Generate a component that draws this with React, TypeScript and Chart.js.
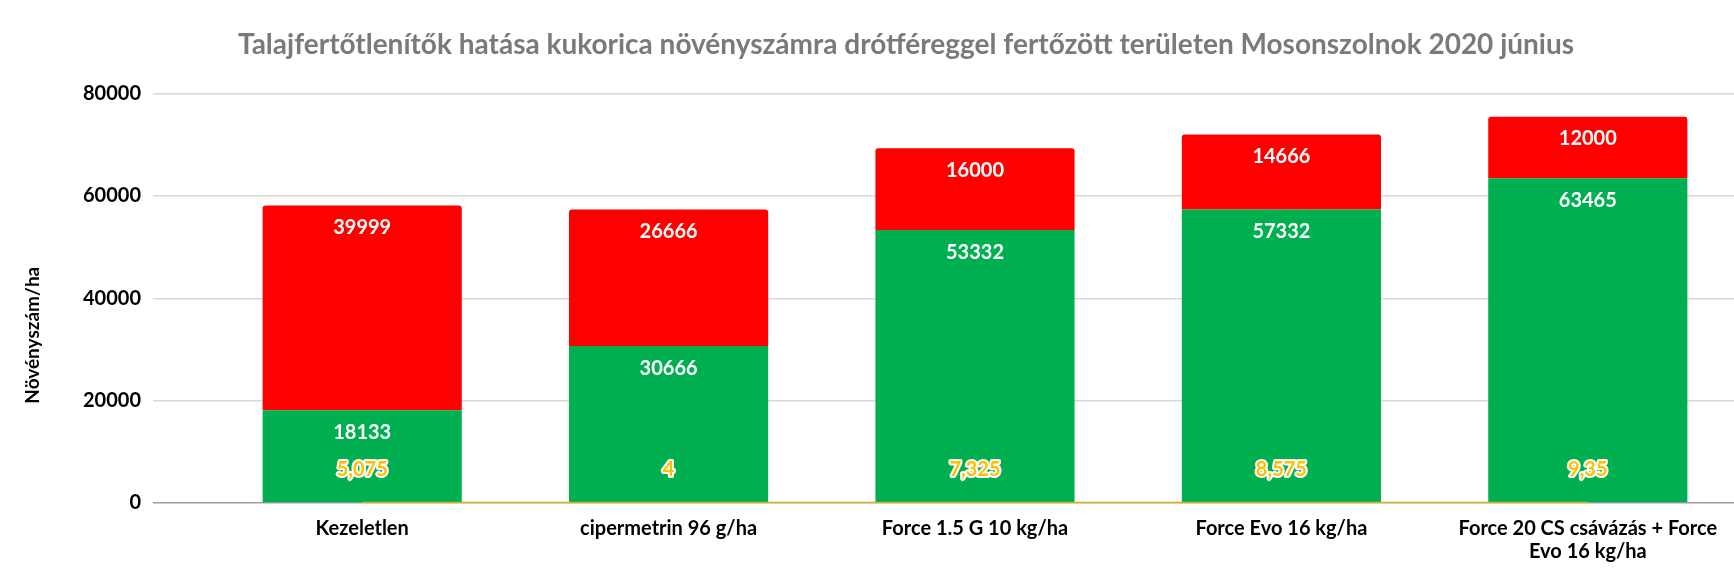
import { useEffect, useRef } from "react"
import { Chart, registerables } from "chart.js"

Chart.register(...registerables)

// Categories and values
const categories = [
  "Kezeletlen",
  "cipermetrin 96 g/ha",
  "Force 1.5 G 10 kg/ha",
  "Force Evo 16 kg/ha",
  ["Force 20 CS csávázás + Force", "Evo 16 kg/ha"],
]
const healthyPlants = [18133, 30666, 53332, 57332, 63465]
const damagedPlants = [39999, 26666, 16000, 14666, 12000]
const lineValues = [5.075, 4, 7.325, 8.575, 9.35]
const yTicks = [0, 20000, 40000, 60000, 80000]

const TITLE =
  "Talajfertőtlenítők hatása kukorica növényszámra drótféreggel fertőzött területen Mosonszolnok 2020 június"
// trailing spaces push the rotated axis title a bit lower, as in Excel
const Y_TITLE = "Növényszám/ha" + " ".repeat(16)

// Draws the numbers on the bars and above the line
const valueLabels = {
  id: "valueLabels",
  afterDatasetsDraw(chart: any) {
    const ctx = chart.ctx
    ctx.save()
    ctx.textAlign = "center"
    ctx.textBaseline = "middle"
    ctx.font = "bold 20px Lato"
    chart.data.datasets.forEach((ds: any, di: number) => {
      const meta = chart.getDatasetMeta(di)
      meta.data.forEach((el: any, i: number) => {
        const text = String(ds.data[i]).replace(".", ",")
        if (meta.type === "line") {
          ctx.lineWidth = 4
          ctx.lineJoin = "round"
          ctx.strokeStyle = "#ffffff"
          ctx.strokeText(text, el.x, el.y - 33)
          ctx.fillStyle = "#FFC000"
          ctx.fillText(text, el.x, el.y - 33)
        } else {
          ctx.fillStyle = "#ffffff"
          ctx.fillText(text, el.x, el.y + 22)
        }
      })
    })
    ctx.restore()
  },
}

export default function App() {
  const chartRef = useRef<HTMLCanvasElement>(null)
  const chartInstance = useRef<Chart | null>(null)

  useEffect(() => {
    document.body.style.margin = "0"
    if (!chartRef.current) return
    if (chartInstance.current) chartInstance.current.destroy()

    Chart.defaults.font.family = "Lato"

    chartInstance.current = new Chart(chartRef.current, {
      type: "bar",
      data: {
        labels: categories as any,
        datasets: [
          {
            type: "line",
            label: "Kártétel",
            data: lineValues,
            borderColor: "#DDB000",
            borderWidth: 2.5,
            pointRadius: 0,
            fill: false,
            stack: "line",
            order: 0,
          } as any,
          {
            label: "Ép növények",
            data: healthyPlants,
            backgroundColor: "#00B050",
            barPercentage: 0.65,
            categoryPercentage: 1,
            stack: "plants",
            order: 1,
          },
          {
            label: "Kipusztult növények",
            data: damagedPlants,
            backgroundColor: "#FF0000",
            barPercentage: 0.65,
            categoryPercentage: 1,
            borderRadius: 3,
            stack: "plants",
            order: 2,
          },
        ],
      },
      options: {
        responsive: false,
        animation: false,
        layout: { padding: { left: 71, bottom: 0 } },
        plugins: {
          legend: { display: false },
          tooltip: { enabled: false },
          title: {
            display: true,
            text: TITLE,
            color: "#7A7A7A",
            font: { size: 28, weight: "bold" },
            padding: { top: 28, bottom: 32 },
          },
        },
        scales: {
          x: {
            stacked: true,
            grid: { display: false, drawTicks: false, tickLength: 0 },
            border: { display: false },
            ticks: {
              color: "#000000",
              font: { size: 20, weight: "bold", lineHeight: 1.15 },
              padding: 14.5,
              maxRotation: 0,
              autoSkip: false,
            },
          },
          y: {
            stacked: true,
            min: 0,
            max: 80000,
            afterFit: (scale: any) => {
              scale.width = 138
            },
            afterBuildTicks: (scale: any) => {
              scale.ticks = yTicks.map((value) => ({ value }))
            },
            border: { display: false },
            grid: {
              color: (c: any) => (c.tick && c.tick.value === 0 ? "#A0A0A0" : "#D9D9D9"),
              lineWidth: 1.5,
              drawTicks: true,
              tickLength: 56,
            },
            ticks: {
              color: "#000000",
              font: { size: 20, weight: "bold" },
              padding: 12,
              callback: (value: any) => String(value),
            },
            title: {
              display: true,
              text: Y_TITLE,
              color: "#000000",
              font: { size: 19, weight: "bold" },
              padding: { top: -49.4, bottom: 0 },
            },
          },
        },
      },
      plugins: [valueLabels],
    })

    return () => {
      if (chartInstance.current) {
        chartInstance.current.destroy()
        chartInstance.current = null
      }
    }
  }, [])

  return (
    <div style={{ width: 1734, height: 578, overflow: "hidden" }}>
      <canvas ref={chartRef} width={1741} height={578} />
    </div>
  )
}
